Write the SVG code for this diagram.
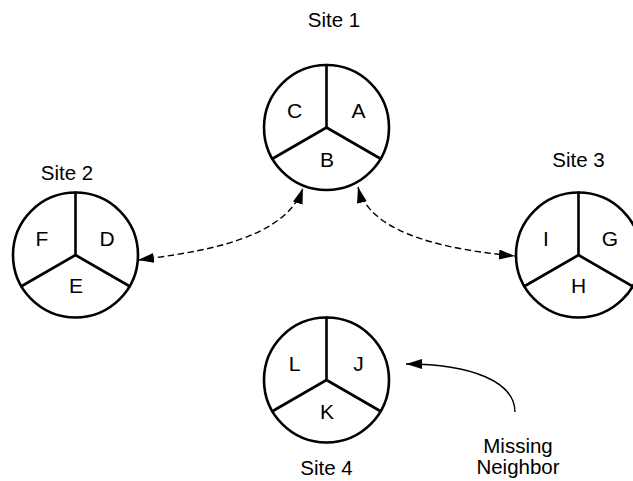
<svg xmlns="http://www.w3.org/2000/svg" width="633" height="481" viewBox="0 0 633 481">
  <style>
    .ring { fill: #fff; stroke: #000; stroke-width: 2.6; }
    .div { fill: none; stroke: #000; stroke-width: 2.6; stroke-linecap: round; }
    .lbl { font-family: "Liberation Sans", Arial, sans-serif; font-size: 20.5px; fill: #000; text-anchor: middle; }
    .sec { font-family: "Liberation Sans", Arial, sans-serif; font-size: 21px; fill: #000; text-anchor: middle; }
    .link { fill: none; stroke: #000; stroke-width: 1.4; stroke-dasharray: 6.5 3.5; }
    .note { fill: none; stroke: #000; stroke-width: 1.4; }
  </style>
  <defs>
    <marker id="head" viewBox="0 0 16 10" refX="16" refY="5" markerWidth="16" markerHeight="10" markerUnits="userSpaceOnUse" orient="auto-start-reverse">
      <path d="M0,0 L16,5 L0,10 Z" fill="#000"/>
    </marker>
    <!-- a site: circle split into three sectors -->
    <g id="site">
      <circle class="ring" cx="0" cy="0" r="62.5"/>
      <path class="div" d="M0,0 V-62.5 M0,0 L-54.1,31.25 M0,0 L54.1,31.25"/>
    </g>
  </defs>

  <g id="site1">
    <use href="#site" transform="translate(326.5,127.5)"/>
    <text class="lbl" x="334" y="27">Site 1</text>
    <text class="sec" x="294.5" y="118">C</text>
    <text class="sec" x="358.5" y="118">A</text>
    <text class="sec" x="327" y="166.5">B</text>
  </g>

  <g id="site2">
    <use href="#site" transform="translate(75.5,255)"/>
    <text class="lbl" x="67" y="180">Site 2</text>
    <text class="sec" x="42" y="245.5">F</text>
    <text class="sec" x="107" y="245.5">D</text>
    <text class="sec" x="76" y="293">E</text>
  </g>

  <g id="site3">
    <use href="#site" transform="translate(578.5,255)"/>
    <text class="lbl" x="578.5" y="167">Site 3</text>
    <text class="sec" x="546" y="245.5">I</text>
    <text class="sec" x="610" y="245.5">G</text>
    <text class="sec" x="578.5" y="293">H</text>
  </g>

  <g id="site4">
    <use href="#site" transform="translate(326.5,380)"/>
    <text class="lbl" x="326.5" y="475">Site 4</text>
    <text class="sec" x="294.5" y="370.5">L</text>
    <text class="sec" x="358.5" y="370.5">J</text>
    <text class="sec" x="327" y="418.5">K</text>
  </g>

  <g id="missing-note">
    <text class="lbl" x="518" y="453">Missing</text>
    <text class="lbl" x="518" y="474">Neighbor</text>
  </g>

  <g id="connectors">
    <path class="link" d="M138,260 C200,252 285,240 303,188" marker-start="url(#head)" marker-end="url(#head)"/>
    <path class="link" d="M358,187 C370,235 450,250 515,256" marker-start="url(#head)" marker-end="url(#head)"/>
    <path class="note" d="M515,412 C515,382 472,364 406,364" marker-end="url(#head)"/>
  </g>
</svg>
